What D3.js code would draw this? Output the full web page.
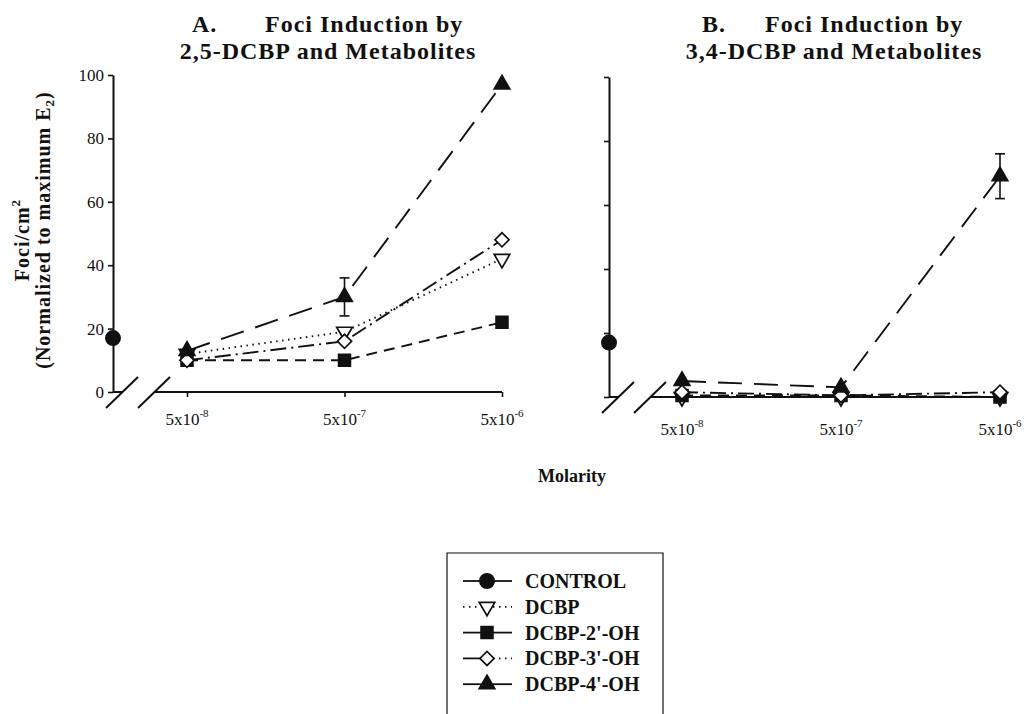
<!DOCTYPE html>
<html>
<head>
<meta charset="utf-8">
<script src="https://cdn.jsdelivr.net/npm/d3@7"></script>
<style>
  html, body { margin: 0; padding: 0; background: #fff; }
  svg { display: block; }
  text { font-family: "Liberation Serif", "Times New Roman", serif; fill: #111; }
</style>
</head>
<body>
<svg id="chart" width="1030" height="714"></svg>
<script>
// ---------- data ----------
const molarity = [5e-8, 5e-7, 5e-6];
const tickBase = ["5x10", "5x10", "5x10"];
const tickExp = ["-8", "-7", "-6"];
const yTicks = [0, 20, 40, 60, 80, 100];
const seriesNames = ["CONTROL", "DCBP", "DCBP-2'-OH", "DCBP-3'-OH", "DCBP-4'-OH"];

// Panel A: 2,5-DCBP
const controlA = 17;
const dcbpA = [12, 19, 42];
const oh2A = [10, 10, 22];
const oh3A = [10, 16, 48];
const oh4A = [13, 30, 97];
const oh4ErrA = [0, 6, 0];

// Panel B: 3,4-DCBP
const controlB = 17;
const dcbpB = [0, 0, 0];
const oh2B = [0.5, 0.5, 0];
const oh3B = [1.5, 0.5, 1.5];
const oh4B = [5, 3, 69];
const oh4ErrB = [0, 0, 7];

// ---------- styles ----------
const styles = {
  "DCBP":       { dash: "1.5,4.5", marker: "triDown", fill: "#fff" },
  "DCBP-2'-OH": { dash: "11,7",    marker: "square",  fill: "#111" },
  "DCBP-3'-OH": { dash: "16,5,2,5", marker: "diamond", fill: "#fff" },
  "DCBP-4'-OH": { dash: "24,12",   marker: "triUp",   fill: "#111" }
};

const svg = d3.select("#chart");
const INK = "#111";

function markerPath(type) {
  if (type === "circle") return d3.symbol(d3.symbolCircle, 160)();
  if (type === "square") return d3.symbol(d3.symbolSquare, 140)();
  if (type === "diamond") return d3.symbol(d3.symbolSquare, 100)();
  return d3.symbol(d3.symbolTriangle, 105)();
}
function markerRot(type) {
  if (type === "diamond") return 45;
  if (type === "triDown") return 180;
  return 0;
}
function drawMarker(g, type, fill, x, y) {
  g.append("path")
    .attr("d", markerPath(type))
    .attr("transform", `translate(${x},${y}) rotate(${markerRot(type)})`)
    .attr("fill", fill)
    .attr("stroke", INK)
    .attr("stroke-width", 1.7);
}

function panel(opts) {
  const g = svg.append("g");
  const x = d3.scaleLog().domain([molarity[0], molarity[2]]).range([opts.x0, opts.x1]);
  const y = d3.scaleLinear().domain([0, 100]).range([opts.y0, opts.y1]);

  // y axis
  const yAxis = d3.axisLeft(y).tickValues(yTicks).tickSize(5).tickSizeOuter(0)
    .tickFormat(opts.showYLabels ? d3.format("d") : () => "");
  const ya = g.append("g").attr("transform", `translate(${opts.ax},0)`).call(yAxis);
  ya.select(".domain").attr("stroke", INK).attr("stroke-width", 2);
  ya.selectAll(".tick line").attr("stroke", INK).attr("stroke-width", 1.6);
  ya.selectAll(".tick text").attr("font-size", 17).attr("x", -9)
    .style("font-family", '"Liberation Serif", serif');

  // short horizontal foot at y-axis bottom
  g.append("line").attr("x1", opts.ax).attr("x2", opts.ax + 9)
    .attr("y1", y(0)).attr("y2", y(0)).attr("stroke", INK).attr("stroke-width", 2);

  // axis-break slashes
  [opts.ax - 7, opts.ax + 25].forEach(sx => {
    g.append("line").attr("x1", sx).attr("y1", y(0) + 16)
      .attr("x2", sx + 32).attr("y2", y(0) - 15)
      .attr("stroke", INK).attr("stroke-width", 2);
  });

  // x axis
  const xAxis = d3.axisBottom(x).tickValues(molarity).tickSize(5).tickSizeOuter(0).tickFormat(() => "");
  const xa = g.append("g").attr("transform", `translate(0,${y(0)})`).call(xAxis);
  xa.select(".domain").remove();
  xa.selectAll(".tick line").attr("stroke", INK).attr("stroke-width", 1.6);
  g.append("line").attr("x1", x(molarity[0]) - 32).attr("x2", x(molarity[2]))
    .attr("y1", y(0)).attr("y2", y(0)).attr("stroke", INK).attr("stroke-width", 2);

  // x tick labels with superscripts
  molarity.forEach((m, i) => {
    const t = g.append("text").attr("x", x(m)).attr("y", y(0) + opts.labelDy)
      .attr("text-anchor", "middle").attr("font-size", 17);
    t.append("tspan").text(tickBase[i]);
    t.append("tspan").attr("font-size", 11).attr("dy", -8).text(tickExp[i]);
  });

  // series lines
  const line = d3.line().x(d => x(d[0])).y(d => y(d[1]));
  opts.series.forEach(s => {
    const st = styles[s.name];
    g.append("path")
      .datum(molarity.map((m, i) => [m, s.values[i]]))
      .attr("d", line)
      .attr("fill", "none")
      .attr("stroke", INK)
      .attr("stroke-width", 1.9)
      .attr("stroke-dasharray", st.dash);
  });

  // error bars
  opts.series.forEach(s => {
    if (!s.err) return;
    molarity.forEach((m, i) => {
      const e = s.err[i];
      if (!e) return;
      const cx = x(m), top = y(s.values[i] + e), bot = y(s.values[i] - e);
      g.append("line").attr("x1", cx).attr("x2", cx).attr("y1", top).attr("y2", bot)
        .attr("stroke", INK).attr("stroke-width", 1.6);
      [top, bot].forEach(yy => g.append("line").attr("x1", cx - 5).attr("x2", cx + 5)
        .attr("y1", yy).attr("y2", yy).attr("stroke", INK).attr("stroke-width", 1.6));
    });
  });

  // markers
  opts.series.forEach(s => {
    const st = styles[s.name];
    molarity.forEach((m, i) => drawMarker(g, st.marker, st.fill, x(m), y(s.values[i])));
  });

  // control
  drawMarker(g, "circle", INK, opts.ax, y(opts.control));
}

panel({
  ax: 113, x0: 187, x1: 502, y0: 392, y1: 75, labelDy: 33, showYLabels: true,
  control: controlA,
  series: [
    { name: "DCBP", values: dcbpA },
    { name: "DCBP-2'-OH", values: oh2A },
    { name: "DCBP-3'-OH", values: oh3A },
    { name: "DCBP-4'-OH", values: oh4A, err: oh4ErrA }
  ]
});

panel({
  ax: 609, x0: 682, x1: 1000, y0: 397, y1: 77, labelDy: 38, showYLabels: false,
  control: controlB,
  series: [
    { name: "DCBP", values: dcbpB },
    { name: "DCBP-2'-OH", values: oh2B },
    { name: "DCBP-3'-OH", values: oh3B },
    { name: "DCBP-4'-OH", values: oh4B, err: oh4ErrB }
  ]
});

// ---------- titles ----------
function title(letterX, textX, letter, line1, line2, cx) {
  const t = svg.append("text").attr("font-size", 24).attr("font-weight", "bold")
    .attr("letter-spacing", 1);
  t.append("tspan").attr("x", letterX).attr("y", 32).text(letter);
  t.append("tspan").attr("x", textX).attr("y", 32).text(line1);
  t.append("tspan").attr("x", cx).attr("y", 59).attr("text-anchor", "middle").text(line2);
}
title(192, 265, "A.", "Foci Induction by", "2,5-DCBP and Metabolites", 328);
title(702, 765, "B.", "Foci Induction by", "3,4-DCBP and Metabolites", 834);

// ---------- y-axis label ----------
const yl = svg.append("text").attr("transform", "rotate(-90)")
  .attr("font-size", 20).attr("font-weight", "bold").attr("letter-spacing", 1)
  .attr("text-anchor", "middle");
yl.append("tspan").attr("x", -240).attr("y", 29).text("Foci/cm");
yl.append("tspan").attr("font-size", 13).attr("dy", -9).text("2");
yl.append("tspan").attr("x", -230).attr("y", 50).text("(Normalized to maximum E");
yl.append("tspan").attr("font-size", 13).attr("dy", 4).text("2");
yl.append("tspan").attr("dy", -4).text(")");

// ---------- x-axis label ----------
svg.append("text").attr("x", 572).attr("y", 482).attr("text-anchor", "middle")
  .attr("font-size", 18).attr("font-weight", "bold").text("Molarity");

// ---------- legend ----------
const lg = svg.append("g");
lg.append("path").attr("d", "M447,720 L447,553 L663,553 L663,720")
  .attr("fill", "none").attr("stroke", INK).attr("stroke-width", 1.2);
const legendMarkers = ["circle", "triDown", "square", "diamond", "triUp"];
const legendFills = [INK, "#fff", INK, "#fff", INK];
const legendLeft = ["none", "1.5,4.5", "none", "none", "none"];
const legendRight = ["none", "1.5,4.5", "none", "1.5,4.5", "none"];
seriesNames.forEach((name, i) => {
  const by = 588 + i * 25.8;
  const my = by - 7;
  lg.append("line").attr("x1", 463).attr("x2", 487).attr("y1", my).attr("y2", my)
    .attr("stroke", INK).attr("stroke-width", 1.8).attr("stroke-dasharray", legendLeft[i]);
  lg.append("line").attr("x1", 487).attr("x2", 512).attr("y1", my).attr("y2", my)
    .attr("stroke", INK).attr("stroke-width", 1.8).attr("stroke-dasharray", legendRight[i]);
  drawMarker(lg, legendMarkers[i], legendFills[i], 487, my);
  lg.append("text").attr("x", 525).attr("y", by).attr("font-size", 20)
    .attr("font-weight", "bold").text(name);
});
</script>
</body>
</html>
